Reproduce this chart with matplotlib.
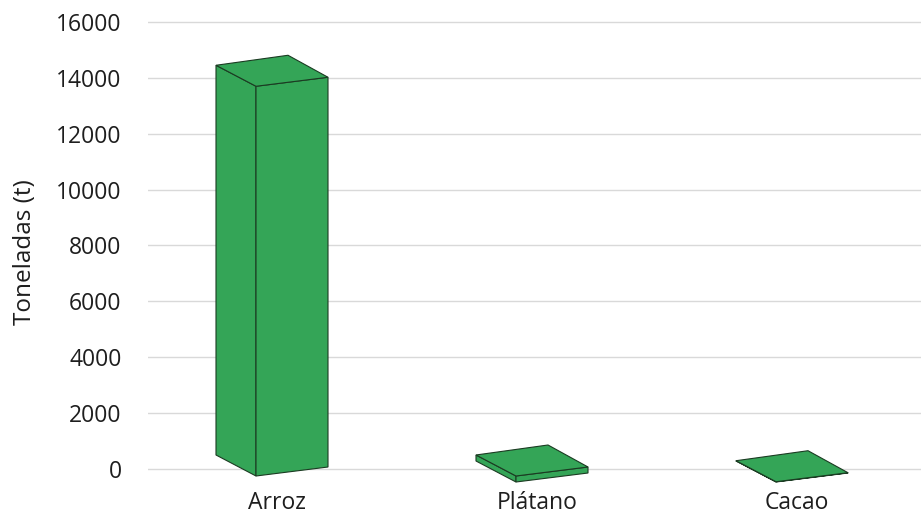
import matplotlib.pyplot as plt
from matplotlib.patches import Polygon

plt.rcParams['font.family'] = ['Open Sans', 'DejaVu Sans']

# data
categories = ['Arroz', 'Plátano', 'Cacao']
toneladas = [13950, 215, 10]
yticks = [0, 2000, 4000, 6000, 8000, 10000, 12000, 14000, 16000]

bar_color = '#34a557'
edge_color = '#1b3b22'

W, H = 921, 517
px_x = 260.0     # pixels per category step
px_y = 447 / 16000  # pixels per tonne

# footprint of each box, offsets from its centre in pixels (x right, y down)
foot_px = {
    'left':  (-56, -6),
    'front': (-16, 15),
    'right': (56, 6),
    'back':  (16, -16),
}
foot = {k: (dx / px_x, -dy / px_y) for k, (dx, dy) in foot_px.items()}
floor_hi = 8 / px_y   # first box sits a bit higher (perspective)
floor_lo = 2 / px_y

fig = plt.figure(figsize=(9.21, 5.17), dpi=100)
ax = fig.add_axes([148 / W, 1 - 490 / H, (921 - 148) / W, (490 - 15) / H])
ax.set_xlim((148 - 272) / px_x, (921 - 272) / px_x)
ax.set_ylim(-21 / px_y, 16000 + 7 / px_y)

for s in ax.spines.values():
    s.set_visible(False)
ax.set_yticks(yticks)
ax.set_yticklabels([str(t) for t in yticks])
ax.yaxis.grid(True, color='#d9d9d9', linewidth=1.0)
ax.set_axisbelow(True)
ax.tick_params(axis='both', length=0, labelsize=16.5, colors='#1e1e1e')
ax.tick_params(axis='y', pad=19)
ax.tick_params(axis='x', pad=1)
ax.set_xticks([i + 0.02 for i in range(len(categories))])
ax.set_xticklabels(categories)
fig.text(25 / W, 1 - 252 / H, 'Toneladas (t)', rotation=90, ha='center',
         va='center', fontsize=17.5, color='#1e1e1e')

for i, v in enumerate(toneladas):
    cy = floor_hi if i == 0 else floor_lo
    def pt(name, top):
        dx, dy = foot[name]
        return (i + dx, cy + dy + (v if top else 0))
    faces = [
        [pt('left', 0), pt('front', 0), pt('front', 1), pt('left', 1)],
        [pt('front', 0), pt('right', 0), pt('right', 1), pt('front', 1)],
        [pt('left', 1), pt('front', 1), pt('right', 1), pt('back', 1)],
    ]
    for f in faces:
        ax.add_patch(Polygon(f, closed=True, facecolor=bar_color,
                             edgecolor=edge_color, linewidth=0.8, zorder=3))

fig.savefig('out.png', dpi=100)
